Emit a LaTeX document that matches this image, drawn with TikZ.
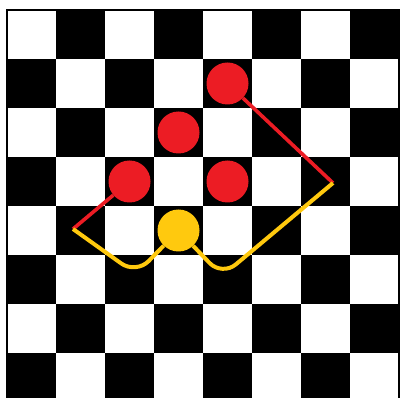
\documentclass[tikz,border=0pt]{standalone}
\begin{document}
\begin{tikzpicture}[x=1pt,y=-1pt,
  piece/.style={circle,inner sep=0pt,minimum size=42pt,draw=none},
  redpiece/.style={piece,fill=pred},
  goldpiece/.style={piece,fill=pgold},
  redmove/.style={draw=pred,line width=3.6pt},
  goldmove/.style={draw=pgold,line width=4pt,rounded corners=18pt,line join=round}]
\definecolor{pred}{HTML}{EC1C24}
\definecolor{pgold}{HTML}{FFC90E}
\clip (0,0) rectangle (402,398);
\fill[white] (0,0) rectangle (402,398);
% board
\foreach \r in {0,...,7}{
  \foreach \c in {0,...,7}{
    \pgfmathtruncatemacro{\odd}{mod(\r+\c,2)}
    \ifnum\odd=1
      \fill[black] ({7+49*\c},{10+49*\r}) rectangle ++(49,49);
    \fi
  }
}
\draw[black,line width=2pt] (7,10) rectangle (399,402);
% pieces
\node[redpiece] (p1) at (227.5,83.5) {};
\node[redpiece] (p2) at (178.5,132.5) {};
\node[redpiece] (p3) at (129.5,181.5) {};
\node[redpiece] (p4) at (227.5,181.5) {};
\node[goldpiece] (y) at (178.5,230.5) {};
% move path corners
\coordinate (L) at (73,229);
\coordinate (R) at (333,183);
\coordinate (B1) at (136,274);
\coordinate (B2) at (222,276);
% paths
\draw[redmove] (L) -- (p3);
\draw[redmove] (p1) -- (R);
\draw[goldmove] (L) -- (B1) -- (y);
\draw[goldmove] (y) -- (B2) -- (R);
\end{tikzpicture}
\end{document}
